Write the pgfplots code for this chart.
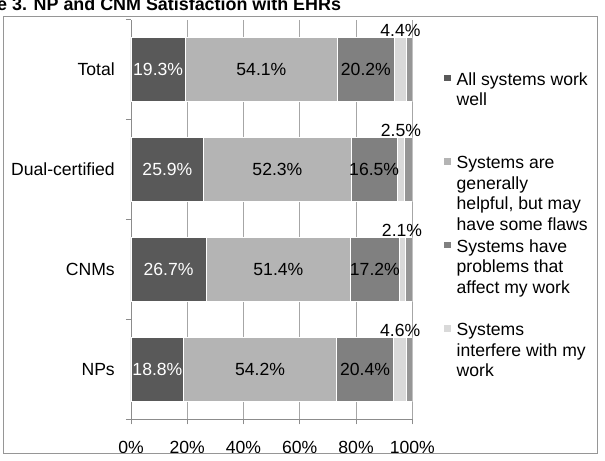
\documentclass[border=0pt]{standalone}
\usepackage{fontspec}
\setmainfont{Liberation Sans}
\usepackage{pgfplots}
\usepackage{pgfplotstable}
\pgfplotsset{compat=1.18}
\definecolor{cA}{RGB}{89,89,89}
\definecolor{cB}{RGB}{180,180,180}
\definecolor{cC}{RGB}{128,128,128}
\definecolor{cD}{RGB}{217,217,217}
\definecolor{cE}{RGB}{150,150,150}
\definecolor{gridc}{RGB}{166,166,166}
\definecolor{axc}{RGB}{140,140,140}
\definecolor{frc}{RGB}{150,150,150}

\pgfplotstableread{
y a b c d e
0 18.8 54.2 20.4 4.6 2.0
1 26.7 51.4 17.2 2.1 2.6
2 25.9 52.3 16.5 2.5 2.8
3 19.3 54.1 20.2 4.4 2.0
}\ehr

\pgfplotsset{
  geom/.style={scale only axis, width=281.3bp, height=399.6bp,
    xmin=0, xmax=100, ymin=-0.5, ymax=3.5},
  seg/.style={draw=white, line width=0.8bp,
    legend image code/.code={\fill[##1,draw=none] (0bp,3.6bp) rectangle (6.7bp,10.3bp);}},
  lab/.style={only marks, mark=*, mark size=0pt, mark options={draw=none,fill=none},
    point meta=explicit,
    nodes near coords={\pgfmathprintnumber[fixed,fixed zerofill,precision=1,assume math mode=true]{\pgfplotspointmeta}\%},
    nodes near coords align={center},
    every node near coord/.append style={anchor=center, inner sep=0pt, text=#1}},
}

\begin{document}
\begin{tikzpicture}[font=\fontsize{17.6bp}{20.7bp}\selectfont]
\begin{axis}[
  geom,
  xbar stacked,
  bar width=64bp,
  axis x line*=bottom, axis y line*=left,
  axis line style={draw=axc, line width=0.8bp},
  xtick={0,20,40,60,80,100},
  xticklabels={0\%,20\%,40\%,60\%,80\%,100\%},
  xticklabel style={anchor=base, inner sep=0pt, yshift=-28.7bp},
  xmajorgrids, major grid style={draw=gridc, line width=0.8bp},
  tick align=outside, major tick length=5bp,
  tick style={draw=axc, line width=0.8bp},
  ytick={-0.5,0.5,1.5,2.5,3.5}, yticklabels={},
  extra y ticks={0,1,2,3},
  extra y tick labels={NPs,CNMs,Dual-certified,Total},
  extra y tick style={major tick length=0pt, tick style={draw=none},
     yticklabel style={anchor=east, inner sep=0pt, xshift=-16bp}},
  legend style={draw=none, fill=none, inner sep=0pt, outer sep=0pt,
     row sep=0pt, column sep=6bp,
     at={(axis description cs:1.1127,0.8716)}, anchor=north west,
     nodes={inner sep=0pt, text depth=},
     cells={anchor=base west}},
]
\addplot[seg, fill=cA] table[x=a, y=y]{\ehr};
\addlegendentry{\parbox[t]{145bp}{\rule{0pt}{14bp}All systems work\newline well\rule[-48.8bp]{0pt}{48.8bp}}}
\addplot[seg, fill=cB] table[x=b, y=y]{\ehr};
\addlegendentry{\parbox[t]{145bp}{\rule{0pt}{14bp}Systems are\newline generally\newline helpful, but may\newline have some flaws\rule[-7.4bp]{0pt}{7.4bp}}}
\addplot[seg, fill=cC] table[x=c, y=y]{\ehr};
\addlegendentry{\parbox[t]{145bp}{\rule{0pt}{14bp}Systems have\newline problems that\newline affect my work\rule[-28.1bp]{0pt}{28.1bp}}}
\addplot[seg, fill=cD] table[x=d, y=y]{\ehr};
\addlegendentry{\parbox[t]{145bp}{\rule{0pt}{14bp}Systems\newline interfere with my\newline work}}
\addplot[seg, fill=cE] table[x=e, y=y]{\ehr};
\end{axis}
\begin{axis}[geom, hide axis, clip=false]
\addplot[lab=white] table[x expr=\thisrow{a}/2, y=y, meta=a]{\ehr};
\addplot[lab=black] table[x expr=\thisrow{a}+\thisrow{b}/2, y=y, meta=b]{\ehr};
\addplot[lab=black] table[x expr=\thisrow{a}+\thisrow{b}+\thisrow{c}/2, y=y, meta=c]{\ehr};
\addplot[lab=black, every node near coord/.append style={anchor=base, yshift=33bp}]
  table[x expr=\thisrow{a}+\thisrow{b}+\thisrow{c}+\thisrow{d}/2, y=y, meta=d]{\ehr};
\end{axis}
\draw[draw=frc, line width=0.8bp] (-127.5bp,-34.2bp) rectangle (466bp,403.3bp);
\node[anchor=base west, inner sep=0pt, font=\fontsize{17.9bp}{20bp}\selectfont\bfseries] at (-178.75bp,408.8bp) {Figure 3. NP and CNM Satisfaction with EHRs};
\pgfresetboundingbox
\path[use as bounding box] (-131bp,-41.7bp) rectangle (474bp,419.3bp);
\end{tikzpicture}
\end{document}
